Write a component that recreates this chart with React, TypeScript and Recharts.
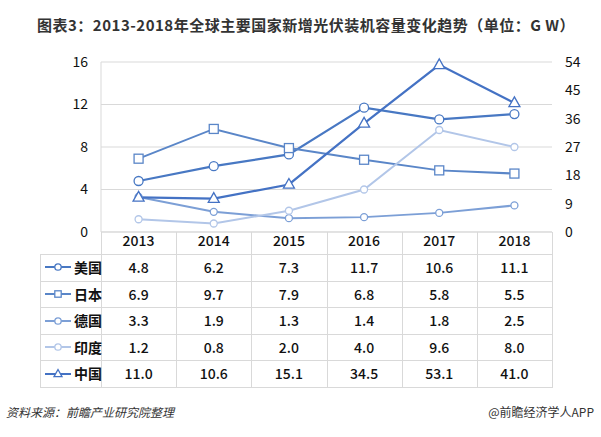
import React from 'react'
import { LineChart, Line, XAxis, YAxis, CartesianGrid } from 'recharts'

const years = ['2013', '2014', '2015', '2016', '2017', '2018']
const usa = [4.8, 6.2, 7.3, 11.7, 10.6, 11.1]
const japan = [6.9, 9.7, 7.9, 6.8, 5.8, 5.5]
const germany = [3.3, 1.9, 1.3, 1.4, 1.8, 2.5]
const india = [1.2, 0.8, 2.0, 4.0, 9.6, 8.0]
const china = [11.0, 10.6, 15.1, 34.5, 53.1, 41.0]
const leftTicks = [0, 4, 8, 12, 16]
const rightTicks = [0, 9, 18, 27, 36, 45, 54]

type Shape = 'circle' | 'square' | 'triangle'

const series: { key: string; name: string; values: number[]; color: string; shape: Shape; size: number; axis: string; width: number }[] = [
  { key: 'usa', name: '美国', values: usa, color: '#4878c3', shape: 'circle', size: 4.5, axis: 'left', width: 2.2 },
  { key: 'japan', name: '日本', values: japan, color: '#5a86c8', shape: 'square', size: 4.5, axis: 'left', width: 2 },
  { key: 'germany', name: '德国', values: germany, color: '#7c9fd6', shape: 'circle', size: 3.5, axis: 'left', width: 2 },
  { key: 'india', name: '印度', values: india, color: '#b2c6e8', shape: 'circle', size: 3.5, axis: 'left', width: 2 },
  { key: 'china', name: '中国', values: china, color: '#4472c4', shape: 'triangle', size: 5, axis: 'right', width: 2.2 },
]

const data = years.map((year, i) => {
  const row: Record<string, any> = { year }
  series.forEach(s => { row[s.key] = s.values[i] })
  return row
})

const W = 601
const H = 437
const PLOT_L = 101
const PLOT_R = 552
const PLOT_B = 232
const TABLE_T = 254
const ROW_H = 26.6
const TABLE_L = 40
const CELL_W = (PLOT_R - PLOT_L) / years.length
const GRID = '#d9d9d9'
const FONT = '"Noto Sans CJK SC", "Open Sans", sans-serif'

function Marker({ shape, cx, cy, size, color }: { shape: Shape; cx: number; cy: number; size: number; color: string }) {
  if (shape === 'square') {
    return <rect x={cx - size} y={cy - size} width={size * 2} height={size * 2} fill="#fff" stroke={color} strokeWidth={1.3} />
  }
  if (shape === 'triangle') {
    const pts = `${cx},${cy - size - 1} ${cx + size + 0.5},${cy + size * 0.75} ${cx - size - 0.5},${cy + size * 0.75}`
    return <polygon points={pts} fill="#fff" stroke={color} strokeWidth={1.3} />
  }
  return <circle cx={cx} cy={cy} r={size} fill="#fff" stroke={color} strokeWidth={1.3} />
}

function makeDot(shape: Shape, size: number, color: string) {
  return (props: any) => {
    const { cx, cy, index } = props
    if (cx == null || cy == null) return <g key={index} />
    return <g key={index}><Marker shape={shape} cx={cx} cy={cy} size={size} color={color} /></g>
  }
}

export default function App() {
  const hLines = Array.from({ length: series.length + 1 }, (_, i) => TABLE_T + i * ROW_H)
  const tableB = TABLE_T + series.length * ROW_H
  return (
    <div style={{ position: 'absolute', left: 0, top: 0, width: W, height: H, background: '#fff', fontFamily: FONT, overflow: 'hidden' }}>
      <div style={{ position: 'absolute', left: 37, top: 14, fontSize: 15, fontWeight: 700, color: '#333', whiteSpace: 'nowrap', lineHeight: '22px', letterSpacing: 0.5 }}>
        图表3：2013-2018年全球主要国家新增光伏装机容量变化趋势（单位：G W）
      </div>

      <div style={{ position: 'absolute', left: 0, top: 0 }}>
        <LineChart width={W} height={H} data={data} margin={{ top: 62, right: 0, left: 41, bottom: 183 }}>
          <CartesianGrid vertical={false} stroke={GRID} yAxisId="left" />
          <XAxis
            dataKey="year"
            height={22}
            padding={{ left: CELL_W / 2, right: CELL_W / 2 }}
            tickLine={false}
            tickSize={0}
            tickMargin={4}
            axisLine={{ stroke: GRID }}
            tick={{ fontSize: 14, fill: '#111', fontFamily: FONT, fontWeight: 500 }}
            interval={0}
          />
          <YAxis
            yAxisId="left"
            width={60}
            domain={[0, 16]}
            ticks={leftTicks}
            tickLine={false}
            tickSize={0}
            tickMargin={13}
            axisLine={{ stroke: GRID }}
            tick={{ fontSize: 14, fill: '#111', fontFamily: FONT }}
          />
          <YAxis
            yAxisId="right"
            orientation="right"
            width={49}
            domain={[0, 54]}
            ticks={rightTicks}
            tickLine={false}
            tickSize={0}
            tickMargin={13}
            axisLine={false}
            tick={{ fontSize: 14, fill: '#111', fontFamily: FONT, textAnchor: 'start' }}
          />
          {series.map(s => (
            <Line
              key={s.key}
              yAxisId={s.axis}
              dataKey={s.key}
              name={s.name}
              stroke={s.color}
              strokeWidth={s.width}
              dot={makeDot(s.shape, s.size, s.color)}
              activeDot={false}
              isAnimationActive={false}
            />
          ))}
        </LineChart>
      </div>

      {/* year row separators */}
      {Array.from({ length: years.length + 1 }, (_, i) => (
        <div key={'ys' + i} style={{ position: 'absolute', left: Math.round(PLOT_L + i * CELL_W), top: PLOT_B, width: 1, height: TABLE_T - PLOT_B, background: GRID }} />
      ))}

      {/* data table lines */}
      {hLines.map((y, i) => (
        <div key={'h' + i} style={{ position: 'absolute', left: TABLE_L, top: Math.round(y), width: PLOT_R - TABLE_L + 1, height: 1, background: GRID }} />
      ))}
      {[TABLE_L, ...Array.from({ length: years.length + 1 }, (_, i) => PLOT_L + i * CELL_W)].map((x, i) => (
        <div key={'v' + i} style={{ position: 'absolute', left: Math.round(x), top: TABLE_T, width: 1, height: tableB - TABLE_T, background: GRID }} />
      ))}

      {series.map((s, r) => {
        const top = TABLE_T + r * ROW_H
        return (
          <React.Fragment key={s.key}>
            <svg style={{ position: 'absolute', left: 44, top: top + ROW_H / 2 - 6 }} width={28} height={12}>
              <line x1={1} y1={6} x2={27} y2={6} stroke={s.color} strokeWidth={2} />
              <Marker shape={s.shape} cx={14} cy={6} size={s.shape === 'triangle' ? 3.5 : 3.2} color={s.color} />
            </svg>
            <div style={{ position: 'absolute', left: 74, top, height: ROW_H, lineHeight: ROW_H + 'px', fontSize: 14, fontWeight: 700, color: '#111' }}>
              {s.name}
            </div>
            {s.values.map((v, c) => (
              <div key={c} style={{ position: 'absolute', left: PLOT_L + c * CELL_W, top, width: CELL_W, height: ROW_H, lineHeight: ROW_H + 'px', textAlign: 'center', fontSize: 14, fontWeight: 500, color: '#111' }}>
                {v.toFixed(1)}
              </div>
            ))}
          </React.Fragment>
        )
      })}

      <div style={{ position: 'absolute', left: 6, top: 403, fontSize: 12, fontStyle: 'italic', color: '#333', whiteSpace: 'nowrap' }}>
        资料来源：前瞻产业研究院整理
      </div>
      <div style={{ position: 'absolute', right: 7, top: 403, fontSize: 12, color: '#333', whiteSpace: 'nowrap' }}>
        @前瞻经济学人APP
      </div>
    </div>
  )
}
